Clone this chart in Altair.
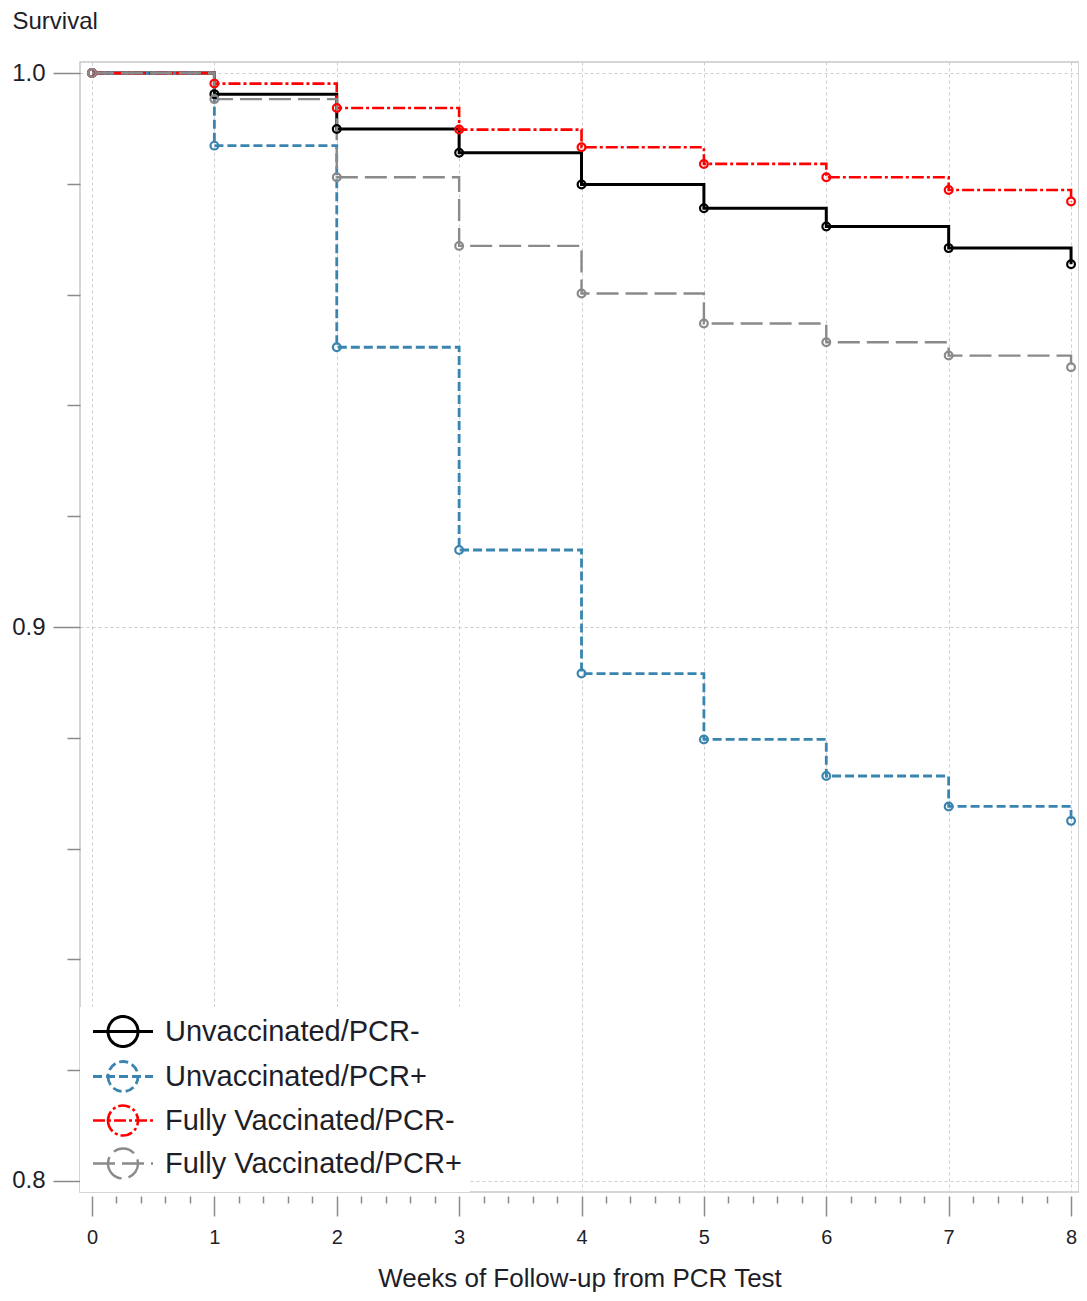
import altair as alt
import pandas as pd

weeks = [0, 1, 2, 3, 4, 5, 6, 7, 8]
series_names = ["Unvaccinated/PCR-", "Unvaccinated/PCR+",
                "Fully Vaccinated/PCR-", "Fully Vaccinated/PCR+"]
unvacc_neg = [1.0, 0.9962, 0.9899, 0.9856, 0.9799, 0.9756, 0.9723, 0.9684, 0.9655]
unvacc_pos = [1.0, 0.9869, 0.9505, 0.9139, 0.8916, 0.8797, 0.8731, 0.8676, 0.8650]
vacc_neg = [1.0, 0.9981, 0.9937, 0.9898, 0.9866, 0.9836, 0.9812, 0.9789, 0.9768]
vacc_pos = [1.0, 0.9953, 0.9812, 0.9688, 0.9602, 0.9548, 0.9514, 0.9490, 0.9469]

series_values = [unvacc_neg, unvacc_pos, vacc_neg, vacc_pos]
colors = ["#000000", "#3a85b0", "#ff0000", "#8a8a8a"]
dashes = [[1, 0], [9, 4], [12, 3, 3, 3], [22, 7]]
widths = [3.0, 2.4, 2.4, 2.4]

x_ticks = [round(i * 0.2, 1) for i in range(41)]
y_ticks = [round(0.8 + i * 0.02, 2) for i in range(11)]

rows = []
for name, vals in zip(series_names, series_values):
    for w, v in zip(weeks, vals):
        rows.append({"week": w, "survival": v, "group": name})
df = pd.DataFrame(rows)

FONT = "Liberation Sans"
TXT = "#1e1e28"
x_major = "abs(datum.value - round(datum.value)) < 0.001"
y_major = "abs(datum.value*10 - round(datum.value*10)) < 0.001"

LEGEND_SYMBOL = "M-2,0L2,0M-1,0A1,1,0,1,0,1,0A1,1,0,1,0,-1,0"
legend = alt.Legend(
    title=None, orient="bottom-left", offset=0, fillColor="white",
    padding=8, symbolType=LEGEND_SYMBOL, symbolSize=900,
    symbolStrokeWidth=2.2, symbolOffset=18.5, labelOffset=25.5,
    labelFontSize=29, labelFont=FONT, labelColor=TXT, rowPadding=2,
    symbolFillColor="transparent", symbolOpacity=1, labelLimit=0,
)

x = alt.X("week:Q",
          scale=alt.Scale(domain=[-0.098, 8.065], nice=False, zero=False),
          axis=alt.Axis(
              values=x_ticks, tickCount=60, title="Weeks of Follow-up from PCR Test",
              labelExpr=f"({x_major}) ? format(datum.value, 'd') : ''",
              labelOverlap=False, labelFlush=False,
              tickSize={"condition": {"test": x_major, "value": 20}, "value": 7},
              gridOpacity={"condition": {"test": x_major, "value": 1}, "value": 0},
              offset=4, domain=False, labelFontSize=20, labelPadding=11,
              titleFontSize=26, titlePadding=18,
          ))
y = alt.Y("survival:Q",
          scale=alt.Scale(domain=[0.798, 1.002], nice=False, zero=False),
          axis=alt.Axis(
              values=y_ticks, tickCount=60, title="Survival",
              labelExpr=f"({y_major}) ? format(datum.value, '.1f') : ''",
              labelOverlap=False, labelFlush=False,
              tickSize={"condition": {"test": y_major, "value": 27}, "value": 13},
              gridOpacity={"condition": {"test": y_major, "value": 1}, "value": 0},
              domain=False, labelFontSize=24, labelPadding=8,
              titleFontSize=24, titleAngle=0, titleAlign="left",
              titleBaseline="top", titleX=-68, titleY=-53,
          ))

color = alt.Color("group:N", scale=alt.Scale(domain=series_names, range=colors),
                  legend=legend)

lines = alt.Chart(df).mark_line(interpolate="step-after").encode(
    x=x, y=y, color=color,
    strokeDash=alt.StrokeDash("group:N",
                              scale=alt.Scale(domain=series_names, range=dashes),
                              legend=legend),
    strokeWidth=alt.StrokeWidth("group:N",
                                scale=alt.Scale(domain=series_names, range=widths),
                                legend=None),
    order="week:Q",
)
points = alt.Chart(df).mark_point(filled=False, size=60, strokeWidth=2.2,
                                  opacity=1).encode(
    x="week:Q", y="survival:Q", color=color,
)

chart = alt.layer(lines, points).properties(
    width=999, height=1130,
    padding={"left": 72, "top": 54, "right": 0, "bottom": 100},
    autosize=alt.AutoSizeParams(type="none"),
).configure_view(
    stroke="#c8c8c8", strokeWidth=1.5
).configure_axis(
    labelFont=FONT, titleFont=FONT, labelColor=TXT, titleColor=TXT,
    titleFontWeight="normal", tickColor="#8a8a8a", tickWidth=1.5,
    gridColor="#cfcbd3", gridDash=[3, 3], gridWidth=1,
)

chart.save("out.html", embed_options={"renderer": "svg", "actions": False})
